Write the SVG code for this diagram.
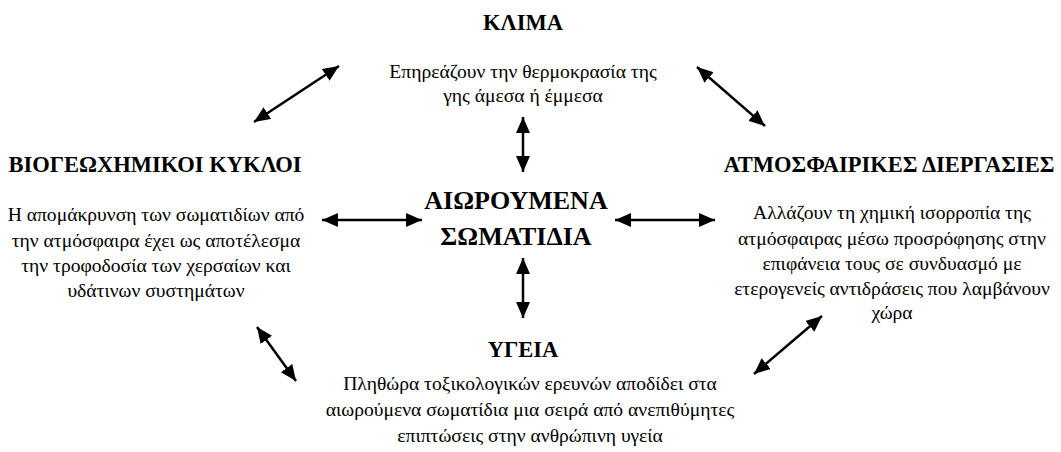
<svg xmlns="http://www.w3.org/2000/svg" width="1061" height="452" viewBox="0 0 1061 452">
<style>
text{font-family:'Liberation Serif','Times New Roman','DejaVu Serif',serif;fill:#000;text-anchor:middle}
.t{font-size:22.5px;font-weight:bold}
.c{font-size:26px;font-weight:bold}
.b{font-size:19.6px}
.a{stroke:#000;stroke-width:2.5;fill:none;marker-start:url(#h);marker-end:url(#h)}
</style>
<defs>
<marker id="h" markerUnits="userSpaceOnUse" markerWidth="18" markerHeight="16" refX="16" refY="7" orient="auto-start-reverse" viewBox="0 0 18 16">
<path d="M0,0 L16,7 L0,14 z" fill="#000"/>
</marker>
</defs>
<rect width="1061" height="452" fill="#fff"/>
<g id="klima">
<text class="t" x="523" y="30">ΚΛΙΜΑ</text>
<text class="b" x="523" y="78">Επηρεάζουν την θερμοκρασία της</text>
<text class="b" x="523" y="102">γης άμεσα ή έμμεσα</text>
</g>
<g id="bio">
<text class="t" x="155" y="172">ΒΙΟΓΕΩΧΗΜΙΚΟΙ ΚΥΚΛΟΙ</text>
<text class="b" x="156" y="221">Η απομάκρυνση των σωματιδίων από</text>
<text class="b" x="156" y="247">την ατμόσφαιρα έχει ως αποτέλεσμα</text>
<text class="b" x="156" y="272">την τροφοδοσία των χερσαίων και</text>
<text class="b" x="156" y="297">υδάτινων συστημάτων</text>
</g>
<g id="center">
<text class="c" x="516" y="209">ΑΙΩΡΟΥΜΕΝΑ</text>
<text class="c" x="516" y="245">ΣΩΜΑΤΙΔΙΑ</text>
</g>
<g id="atmo">
<text class="t" x="889" y="172">ΑΤΜΟΣΦΑΙΡΙΚΕΣ ΔΙΕΡΓΑΣΙΕΣ</text>
<text class="b" x="892" y="219">Αλλάζουν τη χημική ισορροπία της</text>
<text class="b" x="892" y="245">ατμόσφαιρας μέσω προσρόφησης στην</text>
<text class="b" x="892" y="270">επιφάνεια τους σε συνδυασμό με</text>
<text class="b" x="892" y="295">ετερογενείς αντιδράσεις που λαμβάνουν</text>
<text class="b" x="892" y="319">χώρα</text>
</g>
<g id="ygeia">
<text class="t" x="523" y="357">ΥΓΕΙΑ</text>
<text class="b" x="530" y="390">Πληθώρα τοξικολογικών ερευνών αποδίδει στα</text>
<text class="b" x="530" y="416">αιωρούμενα σωματίδια μια σειρά από ανεπιθύμητες</text>
<text class="b" x="530" y="442">επιπτώσεις στην ανθρώπινη υγεία</text>
</g>
<g id="connectors">
<line class="a" x1="254" y1="122" x2="339" y2="66"/>
<line class="a" x1="697" y1="67" x2="765" y2="126"/>
<line class="a" x1="523" y1="117" x2="523" y2="172"/>
<line class="a" x1="322" y1="220" x2="422" y2="220"/>
<line class="a" x1="615" y1="220" x2="715" y2="220"/>
<line class="a" x1="523" y1="258" x2="523" y2="318"/>
<line class="a" x1="257" y1="327" x2="296" y2="381"/>
<line class="a" x1="822" y1="316" x2="754" y2="374"/>
</g>
</svg>
